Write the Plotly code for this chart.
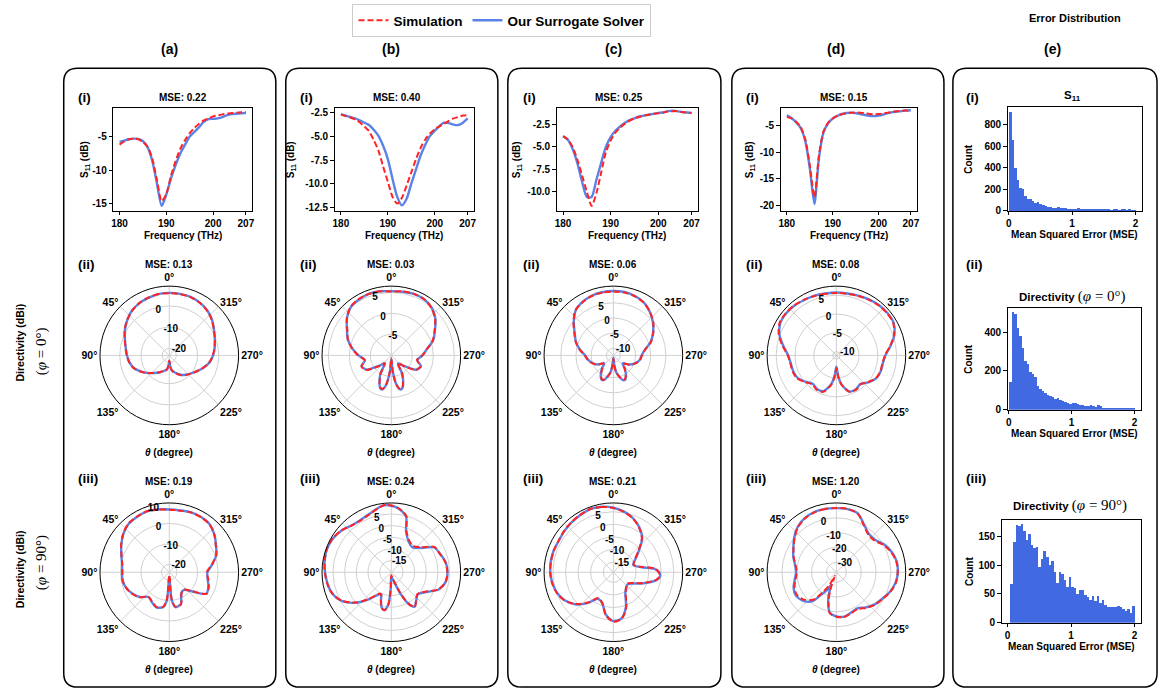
import plotly.graph_objects as go

# ---------------- S11 data (dB) ----------------
freq_thz = [180, 181, 182, 183, 184, 185, 186, 187, 188, 189, 190, 191, 192, 193,
            194, 195, 196, 197, 198, 199, 200, 201, 202, 203, 204, 205, 206, 207]
s11_a_sim = [-6.2, -5.7, -5.4, -5.3, -5.4, -5.8, -6.5, -8.3, -11.5, -14.6, -13.5, -10.8, -8.6, -6.8,
             -5.5, -4.5, -3.7, -3.1, -2.6, -2.3, -2.0, -1.85, -1.7, -1.6, -1.5, -1.45, -1.4, -1.35]
s11_a_sur = [-5.8, -5.6, -5.4, -5.3, -5.35, -5.7, -6.6, -8.6, -12.0, -15.3, -13.6, -11.2, -9.2, -7.5,
             -6.2, -5.0, -4.3, -3.6, -2.8, -2.4, -2.35, -2.3, -2.1, -1.8, -1.65, -1.6, -1.55, -1.5]
s11_b_sim = [-2.7, -2.85, -3.0, -3.2, -3.5, -3.95, -4.45, -5.4, -6.5, -8.2, -9.8, -11.4, -12.1, -11.5,
             -10.2, -8.8, -7.4, -6.2, -5.3, -4.7, -4.25, -3.95, -3.65, -3.35, -3.1, -2.95, -2.8, -2.75]
s11_b_sur = [-2.65, -2.8, -2.95, -3.1, -3.3, -3.55, -3.8, -4.3, -4.95, -6.0, -7.4, -9.5, -11.4, -12.3,
             -11.6, -10.0, -8.5, -7.0, -5.85, -4.95, -4.4, -3.9, -3.55, -3.6, -3.75, -3.8, -3.55, -3.1]
s11_c_sim = [-3.8, -4.15, -5.0, -6.4, -8.2, -10.0, -11.6, -10.2, -7.9, -5.6, -4.3, -3.4, -2.85, -2.4,
             -2.05, -1.8, -1.65, -1.5, -1.4, -1.3, -1.25, -1.15, -1.05, -1.0, -1.0, -1.1, -1.15, -1.2]
s11_c_sur = [-3.8, -4.2, -5.2, -6.8, -8.9, -10.6, -10.6, -8.7, -6.8, -5.0, -3.9, -3.2, -2.7, -2.3,
             -2.0, -1.8, -1.6, -1.5, -1.4, -1.3, -1.2, -1.15, -1.0, -0.95, -1.0, -1.1, -1.15, -1.2]
s11_d_sim = [-3.3, -3.6, -4.2, -5.2, -7.5, -12.5, -18.5, -10.5, -6.0, -4.4, -3.6, -3.1, -2.8, -2.6,
             -2.5, -2.45, -2.5, -2.6, -2.75, -2.8, -2.75, -2.65, -2.5, -2.35, -2.25, -2.15, -2.1, -2.05]
s11_d_sur = [-3.0, -3.5, -4.3, -5.4, -7.8, -13.0, -19.8, -11.0, -6.2, -4.5, -3.6, -3.1, -2.75, -2.55,
             -2.5, -2.6, -2.75, -2.95, -3.1, -3.15, -3.05, -2.85, -2.6, -2.4, -2.3, -2.2, -2.1, -2.05]

# ---------------- Directivity data (dBi) ----------------
theta_a2 = [0, 10, 20, 30, 40, 50, 60, 70, 80, 90, 100, 110, 120, 130, 140, 150, 160, 170, 175, 180,
            185, 190, 200, 210, 220, 230, 240, 250, 260, 270, 280, 290, 300, 310, 320, 330, 340, 350]
dir_a2_sim = [6.0, 6.0, 5.6, 5.1, 4.0, 2.6, 0.9, -1.0, -2.4, -3.3, -4.2, -5.6, -8.0, -10.5, -12.6, -14.2,
              -15.6, -16.6, -18.6, -21.0, -18.4, -16.2, -14.4, -12.6, -11.2, -10.0, -8.4, -6.3, -4.2,
              -2.8, -1.7, -0.5, 0.9, 2.8, 4.3, 5.3, 5.9, 6.0]
dir_a2_sur = [6.1, 6.0, 5.5, 5.0, 4.1, 2.5, 0.8, -1.1, -2.5, -3.4, -4.3, -5.7, -8.1, -10.4, -12.5, -14.0,
              -15.4, -16.5, -18.0, -20.5, -18.0, -16.0, -14.6, -12.8, -11.4, -10.1, -8.3, -6.2, -4.1,
              -2.7, -1.6, -0.5, 1.0, 2.9, 4.4, 5.4, 6.0, 6.1]

theta_a3 = [0, 10, 20, 30, 40, 50, 60, 70, 80, 90, 100, 110, 120, 130, 140, 150, 160, 170, 175, 180,
            185, 190, 200, 210, 220, 230, 240, 250, 260, 270, 280, 290, 300, 310, 320, 330, 340, 350]
dir_a3_sim = [6.7, 7.2, 7.9, 7.6, 7.2, 5.5, 3.3, 1.0, -0.5, -0.9, -0.7, -1.4, -2.8, -4.8, -8.1, -7.1,
              -5.7, -6.7, -10.5, -22.4, -10.5, -6.7, -7.1, -11.9, -12.8, -9.5, -2.8, -3.3, -4.5, -5.5,
              -2.8, 0.5, 2.4, 4.8, 6.7, 7.2, 7.2, 6.7]
dir_a3_sur = [6.8, 7.3, 7.8, 7.5, 7.0, 5.4, 3.2, 1.1, -0.4, -0.8, -0.6, -1.5, -3.0, -5.0, -8.0, -6.9,
              -5.6, -6.5, -10.0, -21.5, -10.2, -6.5, -7.3, -12.1, -12.6, -9.2, -2.9, -3.5, -4.8, -5.2,
              -2.6, 0.6, 2.5, 4.9, 6.8, 7.3, 7.3, 6.8]

theta_b2 = [0, 10, 20, 30, 40, 50, 60, 70, 80, 90, 100, 110, 120, 130, 140, 150, 160, 165, 170, 175,
            180, 185, 190, 195, 200, 210, 220, 230, 240, 250, 260, 270, 280, 290, 300, 310, 320, 330,
            340, 350]
dir_b2_sim = [5.2, 5.5, 5.6, 5.5, 5.1, 3.8, 2.1, 1.0, -0.5, -2.1, -3.6, -2.4, -3.1, -6.0, -7.6, -4.8,
              -2.1, -1.7, -2.9, -6.2, -9.3, -6.2, -2.9, -1.7, -2.1, -4.8, -7.6, -6.0, -3.1, -2.6, -3.8,
              -2.6, -1.4, 0.5, 1.9, 3.6, 4.8, 5.5, 5.6, 5.5]
dir_b2_sur = [5.3, 5.5, 5.6, 5.4, 5.0, 3.8, 2.2, 1.0, -0.6, -2.2, -3.6, -2.5, -3.2, -6.1, -7.5, -4.7,
              -2.0, -1.6, -2.9, -6.3, -9.1, -6.3, -2.9, -1.6, -2.0, -4.7, -7.5, -6.1, -3.2, -2.5, -3.7,
              -2.6, -1.4, 0.6, 2.0, 3.7, 4.9, 5.5, 5.6, 5.4]

theta_b3 = [0, 5, 10, 20, 30, 40, 50, 60, 70, 80, 90, 100, 110, 120, 130, 140, 150, 155, 160, 165,
            170, 175, 178, 180, 195, 203, 208, 214, 222, 230, 240, 250, 260, 270, 280, 290, 300, 310,
            320, 330, 340, 345, 350, 355]
dir_b3_sim = [8.6, 9.0, 8.3, 6.6, 5.8, 6.2, 7.9, 9.0, 9.4, 9.0, 8.5, 7.9, 6.8, 4.5, 0.2, -5.0, -9.3,
              -9.7, -7.1, -4.1, -3.5, -6.3, -13.6, -18.7, -16.6, -10.6, -5.0, -2.0, -4.1, -5.4, -3.3,
              1.5, 3.6, 4.0, 3.6, 2.3, 1.5, -3.3, -5.4, -4.5, -1.1, 4.9, 6.6, 7.9]
dir_b3_sur = [8.5, 8.9, 8.4, 6.8, 6.0, 6.3, 7.8, 8.9, 9.3, 9.0, 8.4, 7.8, 6.9, 4.6, 0.4, -4.8, -9.0,
              -9.5, -7.0, -4.2, -3.6, -6.5, -13.2, -18.0, -16.0, -10.3, -5.2, -2.2, -4.0, -5.2, -3.0,
              1.6, 3.7, 4.1, 3.7, 2.4, 1.2, -3.8, -6.0, -5.0, -1.5, 4.6, 6.5, 7.8]

theta_c2 = [0, 10, 20, 30, 40, 50, 60, 70, 80, 90, 100, 110, 120, 130, 140, 150, 155, 160, 170, 175,
            180, 185, 190, 200, 205, 210, 220, 230, 240, 250, 260, 270, 280, 290, 300, 310, 320, 330,
            340, 350]
dir_c2_sim = [8.7, 8.7, 8.5, 7.9, 7.1, 4.8, 2.5, 0.9, -1.0, -2.9, -3.8, -4.9, -6.2, -8.1, -6.5, -4.2,
              -3.6, -3.9, -6.5, -9.1, -11.3, -9.1, -6.5, -3.9, -3.6, -4.2, -6.5, -8.1, -6.2, -4.6, -3.4,
              -2.9, -1.7, 0.9, 2.9, 4.8, 6.4, 7.7, 8.4, 8.7]
dir_c2_sur = [8.9, 8.8, 8.6, 8.0, 7.0, 4.7, 2.4, 0.8, -1.1, -3.0, -3.9, -5.0, -6.3, -8.3, -6.3, -4.0,
              -3.4, -3.8, -6.6, -9.4, -11.5, -9.4, -6.6, -3.8, -3.4, -4.0, -6.3, -8.3, -6.3, -4.7, -3.5,
              -3.0, -1.8, 0.8, 2.8, 4.7, 6.4, 7.8, 8.5, 8.9]

theta_c3 = [0, 10, 20, 30, 40, 50, 60, 70, 80, 90, 100, 110, 120, 130, 140, 150, 160, 170, 180, 190,
            200, 210, 220, 230, 240, 250, 260, 265, 270, 275, 280, 290, 300, 310, 320, 330, 340, 350]
dir_c3_sim = [6.5, 7.3, 7.7, 7.3, 6.9, 6.5, 6.1, 6.1, 6.1, 6.1, 5.7, 4.9, 3.4, 0.6, -3.3, -7.2, -6.1,
              -1.7, 0.6, -0.2, -4.1, -9.2, -11.2, -11.9, -10.4, -6.5, -1.7, -0.6, -1.0, -2.5, -7.2,
              -10.4, -9.2, -6.1, -1.4, 1.4, 3.7, 5.3]
dir_c3_sur = [6.6, 7.4, 7.6, 7.2, 6.8, 6.4, 6.0, 6.2, 6.2, 6.0, 5.6, 4.8, 3.3, 0.8, -3.0, -6.8, -6.0,
              -1.9, 0.4, -0.4, -4.4, -9.5, -11.0, -11.6, -10.0, -6.2, -1.5, -0.4, -0.8, -2.8, -7.6,
              -10.6, -9.0, -5.8, -1.2, 1.6, 3.8, 5.4]

theta_d2 = [0, 10, 20, 30, 40, 50, 60, 70, 80, 90, 100, 110, 120, 130, 140, 150, 160, 170, 175, 180,
            185, 190, 200, 210, 220, 230, 240, 250, 260, 270, 280, 290, 300, 310, 320, 330, 340, 350]
dir_d2_sim = [5.6, 5.6, 5.8, 6.1, 6.4, 6.5, 6.4, 5.3, 3.5, 1.9, 1.4, 1.4, 1.1, 0.0, -1.0, -0.5, -0.7,
              -3.1, -5.2, -7.6, -5.2, -3.1, -0.7, -0.5, -1.0, 0.0, 1.1, 1.4, 1.4, 1.9, 3.5, 5.3, 6.4,
              6.5, 6.4, 6.1, 5.8, 5.6]
dir_d2_sur = [5.7, 5.7, 5.9, 6.0, 6.3, 6.4, 6.2, 5.1, 3.3, 1.8, 1.3, 1.2, 0.9, -0.2, -1.2, -0.7, -0.9,
              -3.3, -5.6, -8.0, -5.4, -3.2, -0.8, -0.6, -1.1, 0.1, 1.2, 1.5, 1.5, 2.0, 3.6, 5.4, 6.5,
              6.6, 6.5, 6.2, 5.9, 5.7]

theta_d3 = [0, 10, 20, 30, 40, 50, 60, 70, 80, 90, 100, 110, 120, 130, 140, 146, 152, 157, 161, 166,
            171, 180, 190, 200, 210, 220, 230, 240, 250, 260, 270, 280, 290, 300, 310, 320, 330, 340, 350]
dir_d3_sim = [6.6, 6.6, 6.3, 5.3, 3.3, 0.0, -3.4, -6.0, -8.7, -10.0, -8.7, -6.7, -6.0, -8.0, -12.7,
              -20.7, -27.4, -34.0, -23.4, -14.7, -8.7, -6.7, -6.0, -7.4, -8.0, -5.4, -2.7, -0.7, 2.0,
              4.0, 4.6, 4.3, 2.6, 0.0, -3.4, -3.4, 0.0, 5.3, 6.6]
dir_d3_sur = [6.5, 6.7, 6.5, 5.6, 3.6, 0.3, -3.2, -5.8, -8.4, -9.5, -8.2, -6.0, -5.2, -7.0, -11.0,
              -18.5, -23.0, -27.5, -21.0, -14.0, -8.9, -7.0, -6.3, -7.8, -8.5, -5.8, -3.0, -1.0, 1.7,
              3.8, 4.7, 4.6, 3.0, 0.6, -2.6, -2.8, 0.5, 5.5, 6.5]

mse_s11 = ["0.22", "0.40", "0.25", "0.15"]
mse_phi0 = ["0.13", "0.03", "0.06", "0.08"]
mse_phi90 = ["0.19", "0.24", "0.21", "1.20"]

# ---------------- Error distribution histograms ----------------
hist_bin_width = 0.04
hist_s11_start = 0.0
hist_s11_counts = [920, 655, 400, 290, 215, 200, 140, 110, 110, 90, 75, 80, 65, 55, 45, 40, 35, 30, 28, 35,
                   30, 32, 25, 22, 18, 18, 15, 25, 20, 15, 18, 12, 14, 12, 15, 12, 14, 10, 12, 10,
                   8, 15, 10, 8, 10, 12, 8, 10, 7, 6]
hist_phi0_start = 0.0
hist_phi0_counts = [145, 505, 495, 420, 380, 320, 250, 235, 195, 185, 170, 125, 110, 100, 85, 78, 72, 65, 55, 62,
                    50, 45, 40, 35, 30, 38, 35, 30, 25, 25, 22, 20, 25, 18, 15, 28, 22, 12, 10, 10,
                    12, 10, 10, 8, 9, 8, 10, 6, 8, 10]
hist_phi90_start = 0.04
hist_phi90_counts = [68, 140, 170, 168, 172, 160, 145, 155, 135, 130, 132, 98, 112, 125, 115, 100, 108, 88, 70, 88,
                     85, 75, 62, 80, 62, 60, 50, 58, 58, 48, 45, 40, 47, 38, 47, 35, 40, 32, 27, 28,
                     28, 28, 30, 27, 25, 20, 25, 17, 30]

# ---------------- figure helpers ----------------
W, H = 1164, 700
def fx(x): return x / W
def fy(y): return 1 - y / H

FONT = "Liberation Sans"
SERIF = "Liberation Serif"
BLUE = "#5b82e6"
RED = "#ff2424"
BARC = "#4169e1"
GRIDC = "#d0d0d0"

fig = go.Figure()
layout = {}
annotations = []
shapes = []

def ann(x, y, text, size=10, angle=0, anchor="center", family=FONT, weight="bold"):
    annotations.append(dict(x=fx(x), y=fy(y), xref="paper", yref="paper", text=text, showarrow=False,
                            xanchor=anchor, yanchor="middle", textangle=angle,
                            font=dict(family=family, size=size, color="black", weight=weight)))

TICKFONT = dict(family=FONT, size=10, color="black", weight="bold")
AXSTYLE = dict(showline=True, linecolor="black", linewidth=1, mirror=True, ticks="outside",
               ticklen=3.5, tickwidth=1, tickcolor="black", showgrid=False, zeroline=False,
               tickfont=TICKFONT)

def add_cart(idx, xbox, ybox, xr, yr, xt, yt):
    sx = "" if idx == 1 else str(idx)
    layout["xaxis" + sx] = dict(domain=[fx(xbox[0]), fx(xbox[1])], anchor="y" + sx, range=xr,
                                tickvals=xt, ticktext=[str(v) for v in xt], **AXSTYLE)
    layout["yaxis" + sx] = dict(domain=[fy(ybox[1]), fy(ybox[0])], anchor="x" + sx, range=yr,
                                tickvals=yt[0], ticktext=yt[1], **AXSTYLE)
    return "x" + sx, "y" + sx

# ---------------- S11 panels ----------------
s11_sims = [s11_a_sim, s11_b_sim, s11_c_sim, s11_d_sim]
s11_surs = [s11_a_sur, s11_b_sur, s11_c_sur, s11_d_sur]
s11_boxes = [(111.7, 251.3), (334, 474), (557, 699), (782, 919)]
s11_ranges = [[-16.04, -0.74], [-12.88, -1.99], [-12.16, -0.64], [-21.1, -1.6]]
s11_yticks = [([-15, -10, -5], ["-15", "-10", "-5"]),
              ([-12.5, -10, -7.5, -5, -2.5], ["-12.5", "-10.0", "-7.5", "-5.0", "-2.5"]),
              ([-10, -7.5, -5, -2.5], ["-10.0", "-7.5", "-5.0", "-2.5"]),
              ([-20, -15, -10, -5], ["-20", "-15", "-10", "-5"])]
s11_title_x = [181.7, 397, 620, 846]
s11_ylab_x = [84, 291, 518, 752]

for i in range(4):
    xa, ya = add_cart(i + 1, s11_boxes[i], (108, 212), [178.65, 208.35], s11_ranges[i],
                      [180, 190, 200, 207], s11_yticks[i])
    fig.add_trace(go.Scatter(x=freq_thz, y=s11_surs[i], mode="lines", xaxis=xa, yaxis=ya,
                             name="Our Surrogate Solver", legendrank=2, showlegend=(i == 0),
                             line=dict(color=BLUE, width=2.4, shape="spline", smoothing=0.7)))
    fig.add_trace(go.Scatter(x=freq_thz, y=s11_sims[i], mode="lines", xaxis=xa, yaxis=ya,
                             name="Simulation", legendrank=1, showlegend=(i == 0),
                             line=dict(color=RED, width=2, dash="6px,3px", shape="spline", smoothing=0.7)))
    cx = (s11_boxes[i][0] + s11_boxes[i][1]) / 2
    ann(s11_title_x[i], 97, "MSE: " + mse_s11[i], 10)
    ann(cx, 237, "Frequency (THz)", 10)
    ann(s11_ylab_x[i], 160, "S<sub>11</sub> (dB)", 10, angle=-90)

# ---------------- polar panels ----------------
R = 70
ang_ticks = [0, 45, 90, 135, 180, 225, 270, 315]
ang_text = [f"{a}°" for a in ang_ticks]
polar_centers_x = [168, 391, 614, 838]
polar_specs = [
    # (theta, sim, sur, row_y, range, ticks)
    (theta_a2, dir_a2_sim, dir_a2_sur, 358, [-23.3, 9.3], [-20, -10, 0]),
    (theta_b2, dir_b2_sim, dir_b2_sur, 358, [-10, 6.5], [-5, 0, 5]),
    (theta_c2, dir_c2_sim, dir_c2_sur, 358, [-12.3, 10.5], [-10, -5, 0, 5]),
    (theta_d2, dir_d2_sim, dir_d2_sur, 358, [-11, 7.4], [-10, -5, 0, 5]),
    (theta_a3, dir_a3_sim, dir_a3_sur, 577, [-23.8, 10], [-20, -10, 0, 10]),
    (theta_b3, dir_b3_sim, dir_b3_sur, 577, [-20, 9.7], [-15, -10, -5, 0, 5]),
    (theta_c3, dir_c3_sim, dir_c3_sur, 577, [-19, 8.5], [-15, -10, -5, 0, 5]),
    (theta_d3, dir_d3_sim, dir_d3_sur, 577, [-36.7, 10], [-30, -20, -10, 0]),
]
for k, (th, sim, sur, cy, rng, rt) in enumerate(polar_specs):
    cx = polar_centers_x[k % 4]
    key = "polar" if k == 0 else f"polar{k + 1}"
    layout[key] = dict(
        domain=dict(x=[fx(cx - R), fx(cx + R)], y=[fy(cy + R), fy(cy - R)]),
        bgcolor="white",
        angularaxis=dict(rotation=90, direction="counterclockwise", tickvals=ang_ticks, ticktext=ang_text,
                         showline=True, linecolor="black", linewidth=1, gridcolor=GRIDC, gridwidth=0.8,
                         ticks="", tickfont=dict(family=FONT, size=10.5, color="black", weight="bold")),
        radialaxis=dict(range=rng, tickvals=rt, ticktext=[str(v) for v in rt], angle=112.5,
                        tickangle=112.5, showline=False, ticks="", gridcolor=GRIDC, gridwidth=0.8,
                        tickfont=TICKFONT))
    thc = th + [th[0]]
    fig.add_trace(go.Scatterpolar(theta=thc, r=sur + [sur[0]], subplot=key, mode="lines", showlegend=False,
                                  line=dict(color=BLUE, width=2.4, shape="spline", smoothing=0.8)))
    fig.add_trace(go.Scatterpolar(theta=thc, r=sim + [sim[0]], subplot=key, mode="lines", showlegend=False,
                                  line=dict(color=RED, width=2, dash="6px,3px", shape="spline", smoothing=0.8)))
    mse = mse_phi0[k] if k < 4 else mse_phi90[k - 4]
    ann(cx, cy - 92, "MSE: " + mse, 10)
    ann(cx, cy + 98, "<i>θ</i> (degree)", 10)

# ---------------- histograms ----------------
hist_counts = [hist_s11_counts, hist_phi0_counts, hist_phi90_counts]
hist_starts = [hist_s11_start, hist_phi0_start, hist_phi90_start]
hist_boxes_x = [(1010, 1145), (1010, 1144), (1004, 1144)]
hist_boxes_y = [(107, 212), (310, 413), (524, 628)]
hist_xr = [[-0.016, 2.105], [-0.016, 2.105], [-0.094, 2.105]]
hist_yr = [[0, 966], [0, 524], [0, 179]]
hist_yt = [[0, 200, 400, 600, 800], [0, 200, 400], [0, 50, 100, 150]]
for j in range(3):
    xa, ya = add_cart(5 + j, hist_boxes_x[j], hist_boxes_y[j], hist_xr[j], hist_yr[j], [0, 1, 2],
                      (hist_yt[j], [str(v) for v in hist_yt[j]]))
    centers = [round(hist_starts[j] + hist_bin_width * (n + 0.5), 3) for n in range(len(hist_counts[j]))]
    fig.add_trace(go.Bar(x=centers, y=hist_counts[j], width=hist_bin_width, xaxis=xa, yaxis=ya,
                         marker=dict(color=BARC, line=dict(width=0)), showlegend=False))
    bx = (hist_boxes_x[j][0] + hist_boxes_x[j][1]) / 2
    ann(bx, hist_boxes_y[j][1] + 24, "Mean Squared Error (MSE)", 10)
    ann(971, (hist_boxes_y[j][0] + hist_boxes_y[j][1]) / 2, "Count", 10, angle=-90)

serif_span = '<span style="font-family:Liberation Serif;font-weight:normal;font-size:15px">'
ann(1075, 96, "S<sub>11</sub>", 11.5)
ann(1075, 298, "Directivity " + serif_span + "(<i>φ</i> = 0°)</span>", 11.5)
ann(1073, 510, "Directivity " + serif_span + "(<i>φ</i> = 90°)</span>", 11.5)

# ---------------- labels ----------------
ann(1078, 17, "Error Distribution", 11)
for lab, x in zip(["(a)", "(b)", "(c)", "(d)", "(e)"], [168, 391, 614, 838, 1055]):
    ann(x, 48, lab, 14)
row_label_x = [74, 297, 521, 745, 966]
for x in row_label_x:
    ann(x, 97, "(i)", 13.5, anchor="left")
    ann(x, 266, "(ii)", 13.5, anchor="left")
    ann(x, 482, "(iii)", 13.5, anchor="left")

ann(18, 345, "Directivity (dBi)", 10.5, angle=-90)
ann(40, 354, "(<i>φ</i> = 0°)", 15, angle=-90, family=SERIF, weight="normal")
ann(18, 574, "Directivity (dBi)", 10.5, angle=-90)
ann(40, 567, "(<i>φ</i> = 90°)", 15, angle=-90, family=SERIF, weight="normal")

# ---------------- rounded panel frames ----------------
def rounded(x0, y0, x1, y1, r=14):
    rx, ry = r / W, r / H
    X0, X1, YT, YB = fx(x0), fx(x1), fy(y0), fy(y1)
    return (f"M {X0 + rx},{YT} L {X1 - rx},{YT} Q {X1},{YT} {X1},{YT - ry} "
            f"L {X1},{YB + ry} Q {X1},{YB} {X1 - rx},{YB} L {X0 + rx},{YB} Q {X0},{YB} {X0},{YB + ry} "
            f"L {X0},{YT - ry} Q {X0},{YT} {X0 + rx},{YT} Z")

for (x0, x1) in [(62, 275), (285, 498), (508, 722), (733, 946), (955, 1160)]:
    shapes.append(dict(type="path", xref="paper", yref="paper", path=rounded(x0, 68, x1, 693),
                       line=dict(color="black", width=1.5), fillcolor="rgba(0,0,0,0)", layer="below"))

layout.update(dict(
    width=W, height=H, autosize=False, margin=dict(l=0, r=0, t=0, b=0),
    paper_bgcolor="white", plot_bgcolor="white",
    font=dict(family=FONT, size=10, color="black", weight="bold"),
    annotations=annotations, shapes=shapes, bargap=0,
    legend=dict(orientation="h", x=fx(352), y=fy(3), xanchor="left", yanchor="top",
                bordercolor="#cccccc", borderwidth=1, bgcolor="white", itemwidth=30,
                font=dict(family=FONT, size=13.5, color="black", weight="bold")),
))
fig.update_layout(**layout)
fig.write_html("out.html")
